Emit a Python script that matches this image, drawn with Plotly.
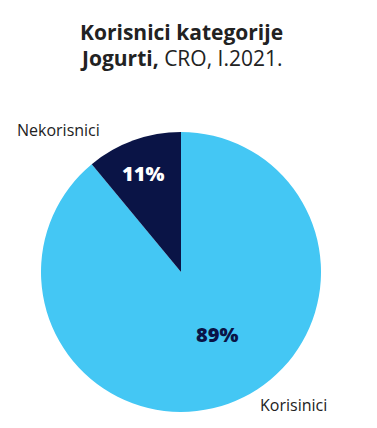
import plotly.graph_objects as go

categories = ["Korisinici", "Nekorisnici"]
values = [89, 11]
colors = ["#44C7F4", "#0A1446"]
text_colors = ["#0A1446", "#FFFFFF"]

W, H = 377, 428
cx, cy, R = 181, 272, 140
FONT = "Open Sans"

fig = go.Figure(go.Pie(
    labels=categories,
    values=values,
    sort=False,
    direction="clockwise",
    rotation=0,
    marker=dict(colors=colors, line=dict(width=0)),
    textinfo="none",
    showlegend=False,
    hoverinfo="skip",
    domain=dict(x=[(cx - R) / W, (cx + R) / W], y=[1 - (cy + R) / H, 1 - (cy - R) / H]),
))

total = sum(values)
pct_pos = [(217, 334), (143, 173)]
for v, (px, py), tc in zip(values, pct_pos, text_colors):
    fig.add_annotation(x=px / W, y=1 - py / H, xref="paper", yref="paper",
                       text=f"{round(100 * v / total)}%", showarrow=False,
                       font=dict(family=FONT, size=20, color=tc, weight=800),
                       xanchor="center", yanchor="middle")

fig.add_annotation(x=181 / W, y=1 - 32 / H, xref="paper", yref="paper",
                   text="<b>Korisnici kategorije</b>", showarrow=False,
                   font=dict(family=FONT, size=21, color="#222222"), xanchor="center", yanchor="middle")
fig.add_annotation(x=181 / W, y=1 - 58 / H, xref="paper", yref="paper",
                   text="<b>Jogurti,</b> CRO, I.2021.", showarrow=False,
                   font=dict(family=FONT, size=21, color="#222222"), xanchor="center", yanchor="middle")
fig.add_annotation(x=15 / W, y=1 - 130 / H, xref="paper", yref="paper",
                   text=categories[1], showarrow=False,
                   font=dict(family=FONT, size=16, color="#222222", weight=500), xanchor="left", yanchor="middle")
fig.add_annotation(x=258 / W, y=1 - 405 / H, xref="paper", yref="paper",
                   text=categories[0], showarrow=False,
                   font=dict(family=FONT, size=16, color="#222222", weight=500), xanchor="left", yanchor="middle")

fig.update_layout(width=W, height=H, margin=dict(l=0, r=0, t=0, b=0),
                  paper_bgcolor="white", plot_bgcolor="white")
fig.write_html("out.html", config={"displayModeBar": False},
               post_script="document.body.style.margin='0';")
